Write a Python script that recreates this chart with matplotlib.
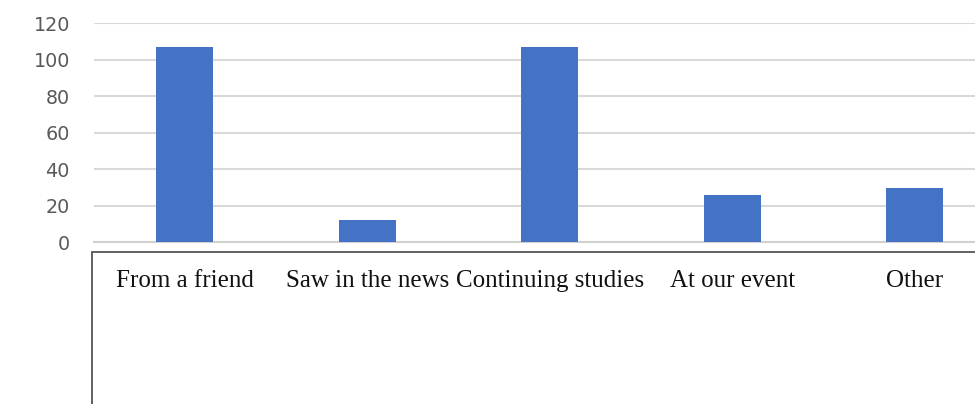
import matplotlib
matplotlib.use("Agg")
import matplotlib.pyplot as plt
from matplotlib.patches import Rectangle

categories = ["From a friend", "Saw in the news", "Continuing studies", "At our event", "Other"]
values = [107, 12, 107, 26, 30]
yticks = [0, 20, 40, 60, 80, 100, 120]

fig = plt.figure(figsize=(9.75, 4.04), dpi=100)
W, H = 975, 404
left_px, right_px = 93.5, 1006
top_px, bot_px = 23.3, 242.3
ax = fig.add_axes([left_px / W, 1 - bot_px / H, (right_px - left_px) / W, (bot_px - top_px) / H])

x = list(range(len(categories)))
ax.bar(x, values, width=0.31, color="#4472C4", zorder=3)
ax.set_xlim(-0.5, len(categories) - 0.5)
ax.set_ylim(0, 120)
ax.set_yticks(yticks)
ax.yaxis.grid(True, color="#d9d9d9", linewidth=1.5, zorder=0)
for s in ["top", "right", "left"]:
    ax.spines[s].set_visible(False)
ax.spines["bottom"].set_color("#d0d0d0")
ax.spines["bottom"].set_linewidth(1.5)
ax.tick_params(axis="y", length=0, pad=17, labelsize=13.8, labelcolor="#595959")
for lbl in ax.get_yticklabels():
    lbl.set_fontfamily("DejaVu Sans")
ax.set_xticks(x)
ax.set_xticklabels(categories, fontfamily="Liberation Serif", fontsize=18, color="#111111")
ax.tick_params(axis="x", length=0, pad=20)

# box under the plot
rect = Rectangle((91.5 / W, -0.2), 1.0, 0.2 + (1 - 252 / H), transform=fig.transFigure,
                 fill=False, edgecolor="#555555", linewidth=1.3, clip_on=False)
fig.patches.append(rect)

fig.savefig("out.png", dpi=100)
